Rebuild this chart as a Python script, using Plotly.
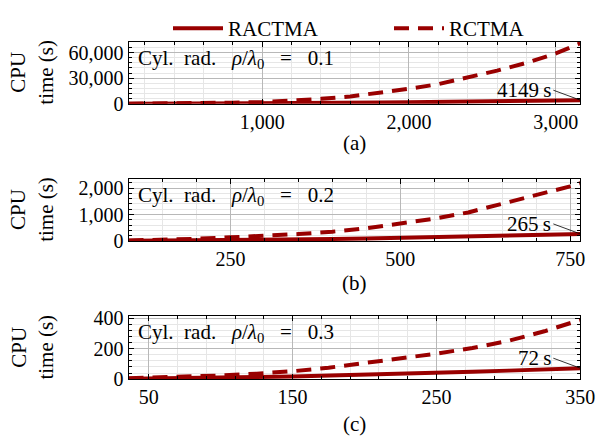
import plotly.graph_objects as go

# Panel (a): cylinder radius rho/lambda0 = 0.1
n_a = [90, 200, 400, 600, 800, 1000, 1200, 1400, 1600, 1800, 2000,
       2200, 2400, 2600, 2800, 3000, 3167]
ractma_a = [5, 15, 70, 150, 260, 410, 590, 800, 1050, 1330, 1650,
            2000, 2380, 2790, 3240, 3720, 4149]
rctma_a = [20, 80, 300, 650, 1200, 1950, 3300, 5700, 8500, 12500, 17500,
           23000, 30500, 38800, 48000, 59000, 71000]

# Panel (b): cylinder radius rho/lambda0 = 0.2
n_b = [100, 150, 200, 250, 300, 350, 400, 450, 500, 550, 600, 650, 700, 750, 765]
ractma_b = [5, 10, 18, 28, 40, 55, 72, 92, 113, 137, 163, 191, 222, 255, 265]
rctma_b = [15, 40, 80, 135, 190, 260, 350, 480, 660, 840, 1080, 1400, 1720, 2070, 2190]

# Panel (c): cylinder radius rho/lambda0 = 0.3
n_c = [36, 50, 75, 100, 125, 150, 175, 200, 225, 250, 275, 300, 325, 350]
ractma_c = [3, 4, 7, 10, 14, 18, 23, 28, 34, 40, 48, 56, 64, 72]
rctma_c = [6, 9, 16, 24, 36, 52, 75, 105, 135, 168, 205, 252, 315, 390]

radii = ["0.1", "0.2", "0.3"]
panel_tags = ["(a)", "(b)", "(c)"]

RED = "#990000"
FONT = "Liberation Serif, DejaVu Serif, serif"

panels = [
    dict(n=n_a, s=ractma_a, d=rctma_a, xr=[90, 3167], yr=[0, 73000],
         xd=1000, x0=0, xm=200, xm0=0, yd=30000, ym=6000,
         ydom=[0.7753, 0.9213], tag_y=0.683),
    dict(n=n_b, s=ractma_b, d=rctma_b, xr=[100, 765], yr=[0, 2360],
         xd=250, x0=0, xm=50, xm0=0, yd=1000, ym=200,
         ydom=[0.4533, 0.5993], tag_y=0.355),
    dict(n=n_c, s=ractma_c, d=rctma_c, xr=[36, 350], yr=[0, 416],
         xd=100, x0=50, xm=20, xm0=10, yd=200, ym=40,
         ydom=[0.1288, 0.2771], tag_y=0.024),
]

XDOM = [0.2164, 0.977]
tickfont = dict(family=FONT, size=20, color="black")
textfont = dict(family=FONT, size=21, color="black")

fig = go.Figure()
annotations = []

for i, p in enumerate(panels):
    k = "" if i == 0 else str(i + 1)
    xa, ya = "x" + k, "y" + k

    fig.add_trace(go.Scatter(
        x=p["n"], y=p["s"], mode="lines", name="RACTMA",
        line=dict(color=RED, width=4), xaxis=xa, yaxis=ya,
        showlegend=(i == 0), legendrank=1))
    fig.add_trace(go.Scatter(
        x=p["n"], y=p["d"], mode="lines", name="RCTMA",
        line=dict(color=RED, width=4, dash="15px,9px"), xaxis=xa, yaxis=ya,
        showlegend=(i == 0), legendrank=2))

    common = dict(showline=True, linecolor="black", linewidth=1, mirror="ticks",
                  ticks="inside", ticklen=5, tickcolor="black", tickwidth=1,
                  showgrid=True, gridcolor="#b8b8b8", gridwidth=1,
                  zeroline=False, tickfont=tickfont, tickformat=",d",
                  ticklabeloverflow="allow")

    fig.layout["xaxis" + k] = dict(
        common, domain=XDOM, anchor=ya, range=p["xr"],
        tick0=p["x0"], dtick=p["xd"],
        minor=dict(tick0=p["xm0"], dtick=p["xm"], showgrid=True,
                   gridcolor="#e6e6e6", ticks="inside", ticklen=3,
                   tickcolor="black"))
    fig.layout["yaxis" + k] = dict(
        common, domain=p["ydom"], anchor=xa, range=p["yr"],
        tick0=0, dtick=p["yd"],
        minor=dict(tick0=0, dtick=p["ym"], showgrid=True,
                   gridcolor="#e6e6e6", ticks="inside", ticklen=3,
                   tickcolor="black"))

    # Case label inside the axes
    annotations.append(dict(
        xref=xa + " domain", yref=ya + " domain", x=0.017, y=0.725,
        xanchor="left", yanchor="middle", showarrow=False,
        text=("Cyl.&nbsp; rad.&nbsp;&nbsp; <i>ρ</i>/<i>λ</i><sub>0</sub>"
              "&nbsp;&nbsp;&nbsp;=&nbsp;&nbsp;&nbsp;" + radii[i]),
        font=textfont))

    # Final RACTMA time, pinned to the last point
    annotations.append(dict(
        xref=xa, yref=ya, x=p["n"][-1], y=p["s"][-1],
        text=f"{p['s'][-1]}\u2009s", showarrow=True, arrowhead=0,
        arrowwidth=0.8, arrowcolor="black", ax=-27, ay=-10,
        xanchor="right", yanchor="middle", font=textfont))

    # Vertical axis label
    annotations.append(dict(
        xref="paper", yref="paper", x=0.054, y=sum(p["ydom"]) / 2,
        xanchor="center", yanchor="middle", showarrow=False, textangle=-90,
        text="CPU<br>time (s)", font=textfont))

    # Sub-figure tag
    annotations.append(dict(
        xref="paper", yref="paper", x=sum(XDOM) / 2, y=p["tag_y"],
        xanchor="center", yanchor="middle", showarrow=False,
        text=panel_tags[i], font=textfont))

fig.update_layout(
    width=610, height=445,
    margin=dict(l=0, r=0, t=0, b=0),
    paper_bgcolor="white", plot_bgcolor="white",
    annotations=annotations,
    legend=dict(orientation="h", x=0.283, xanchor="left", y=1.0,
                yanchor="top", font=dict(family=FONT, size=21, color="black"),
                entrywidth=156, itemwidth=50, bgcolor="rgba(0,0,0,0)"),
)

fig.write_html("out.html")
